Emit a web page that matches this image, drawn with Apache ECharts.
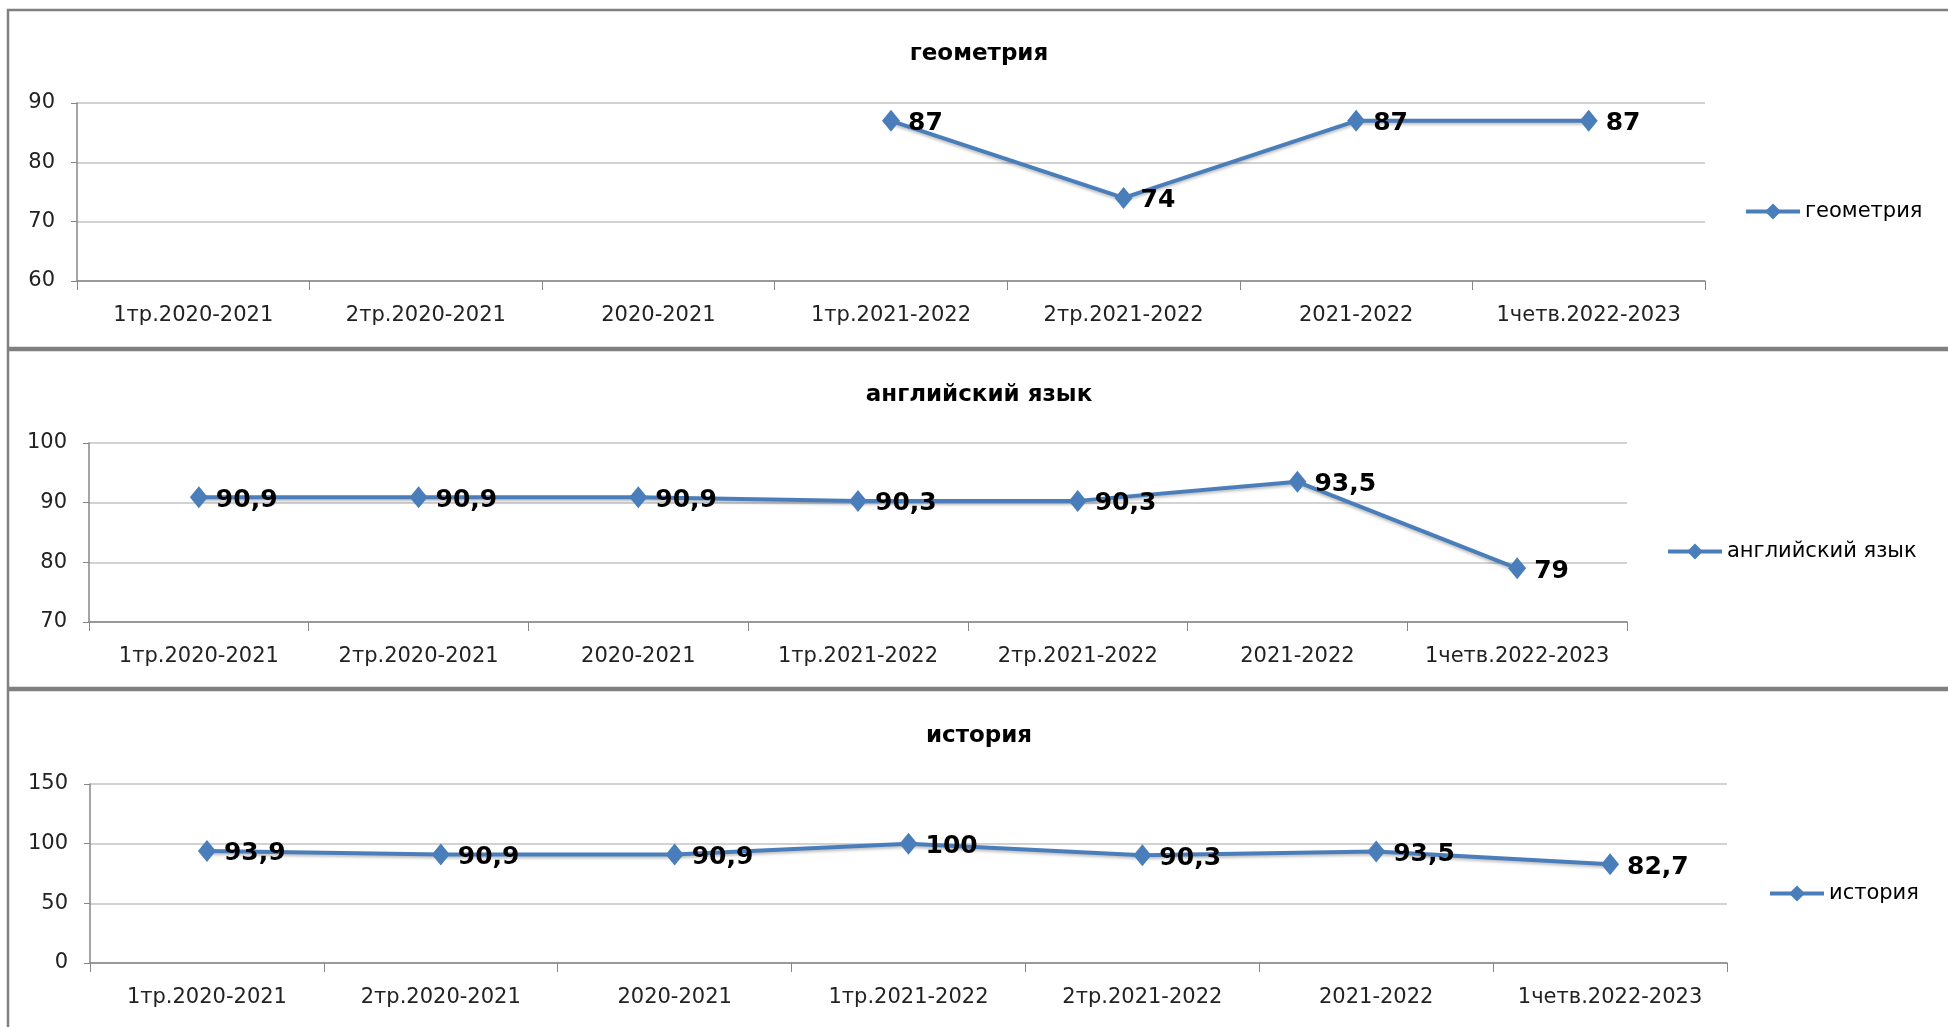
<!DOCTYPE html>
<html>
<head>
<meta charset="utf-8">
<script src="https://cdn.jsdelivr.net/npm/echarts@6/dist/echarts.min.js"></script>
<style>
html,body{margin:0;padding:0;background:#fff;}
#c{width:1948px;height:1027px;}
</style>
</head>
<body>
<div id="c"></div>
<script>
const categories = ['1тр.2020-2021','2тр.2020-2021','2020-2021','1тр.2021-2022','2тр.2021-2022','2021-2022','1четв.2022-2023'];
const geometry = [null, null, null, 87, 74, 87, 87];
const english = [90.9, 90.9, 90.9, 90.3, 90.3, 93.5, 79];
const history = [93.9, 90.9, 90.9, 100, 90.3, 93.5, 82.7];
const titles = ['геометрия', 'английский язык', 'история'];
const yMin = [60, 70, 0];
const yMax = [90, 100, 150];
const yStep = [10, 10, 50];

const FONT = 'DejaVu Sans';
const BLUE = '#4a7ebb';

const grids = [
  {left: 77, right: 243, top: 103, height: 178},
  {left: 89, right: 321, top: 443, height: 179},
  {left: 90, right: 221, top: 784, height: 179}
];
const titleCenters = [57, 398, 739];
const legendPos = [
  {left: 1744, top: 201},
  {left: 1666, top: 541},
  {left: 1768, top: 883}
];
const seriesData = [geometry, english, history];

const option = {
  backgroundColor: '#fff',
  animation: false,
  title: titles.map((t, i) => ({
    text: t,
    left: 979,
    top: titleCenters[i] - 14,
    padding: 0,
    textAlign: 'center',
    textStyle: {fontFamily: FONT, fontSize: 23, fontWeight: 'bold', color: '#000'}
  })),
  legend: titles.map((t, i) => ({
    data: [t],
    left: legendPos[i].left,
    top: legendPos[i].top,
    padding: 0,
    itemWidth: 54,
    itemHeight: 20,
    itemGap: 4,
    lineStyle: {width: 4, color: BLUE},
    itemStyle: {color: BLUE},
    textStyle: {fontFamily: FONT, fontSize: 21, color: '#000'}
  })),
  grid: grids,
  xAxis: grids.map((g, i) => ({
    type: 'category',
    gridIndex: i,
    data: categories,
    boundaryGap: true,
    axisLine: {lineStyle: {color: '#868686', width: 1.5}},
    axisTick: {show: true, length: 9, lineStyle: {color: '#868686'}},
    axisLabel: {fontFamily: FONT, fontSize: 21, color: '#222', margin: 24, interval: 0}
  })),
  yAxis: grids.map((g, i) => ({
    type: 'value',
    gridIndex: i,
    min: yMin[i],
    max: yMax[i],
    interval: yStep[i],
    axisLine: {show: true, lineStyle: {color: '#868686', width: 1.5}},
    axisTick: {show: true, length: 6, lineStyle: {color: '#868686'}},
    axisLabel: {fontFamily: FONT, fontSize: 21, color: '#222', margin: 22},
    splitLine: {lineStyle: {color: '#c3c3c3', width: 1.5}}
  })),
  series: titles.map((t, i) => ({
    name: t,
    type: 'line',
    xAxisIndex: i,
    yAxisIndex: i,
    data: seriesData[i],
    symbol: 'diamond',
    symbolSize: [18, 22],
    lineStyle: {color: BLUE, width: 4, shadowColor: 'rgba(0,0,0,0.25)', shadowBlur: 3, shadowOffsetY: 2},
    itemStyle: {color: BLUE},
    label: {
      show: true,
      position: 'right',
      distance: 8,
      offset: [0, 3],
      fontFamily: FONT,
      fontSize: 25,
      fontWeight: 'bold',
      color: '#000',
      formatter: p => String(p.value).replace('.', ',')
    }
  })),
  graphic: [
    {type: 'rect', shape: {x: 8, y: 10, width: 1960, height: 338}, style: {fill: 'none', stroke: '#808080', lineWidth: 2.5}, z: 100},
    {type: 'rect', shape: {x: 8, y: 350, width: 1960, height: 338}, style: {fill: 'none', stroke: '#808080', lineWidth: 2.5}, z: 100},
    {type: 'rect', shape: {x: 8, y: 690, width: 1960, height: 360}, style: {fill: 'none', stroke: '#808080', lineWidth: 2.5}, z: 100}
  ]
};

const chart = echarts.init(document.getElementById('c'));
chart.setOption(option);
</script>
</body>
</html>
